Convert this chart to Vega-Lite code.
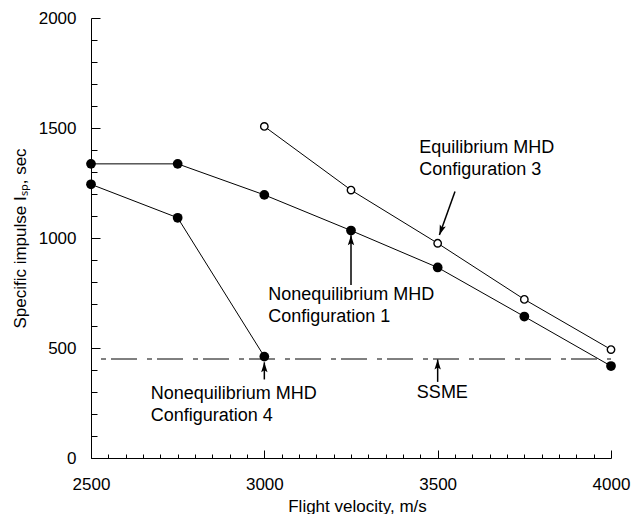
{
  "$schema": "https://vega.github.io/schema/vega-lite/v6.json",
  "width": 520,
  "height": 440,
  "autosize": {"type": "none"},
  "padding": {"left": 91, "top": 18, "right": 20, "bottom": 56},
  "background": "white",
  "config": {
    "view": {"stroke": null},
    "font": "Liberation Sans",
    "axis": {
      "labelFont": "Liberation Sans",
      "titleFont": "Liberation Sans",
      "labelColor": "black",
      "titleColor": "black",
      "tickColor": "black",
      "domainColor": "black",
      "gridColor": "black",
      "gridOpacity": 1,
      "gridWidth": 1,
      "labelFontSize": 17,
      "titleFontSize": 17,
      "titleFontWeight": "normal",
      "domainWidth": 1,
      "tickWidth": 1
    }
  },
  "datasets": {
    "perf": [
      {"series": "Nonequilibrium MHD Configuration 1", "v": 2500, "isp": 1337},
      {"series": "Nonequilibrium MHD Configuration 1", "v": 2750, "isp": 1337},
      {"series": "Nonequilibrium MHD Configuration 1", "v": 3000, "isp": 1196},
      {"series": "Nonequilibrium MHD Configuration 1", "v": 3250, "isp": 1034},
      {"series": "Nonequilibrium MHD Configuration 1", "v": 3500, "isp": 866},
      {"series": "Nonequilibrium MHD Configuration 1", "v": 3750, "isp": 643},
      {"series": "Nonequilibrium MHD Configuration 1", "v": 4000, "isp": 418},
      {"series": "Equilibrium MHD Configuration 3", "v": 3000, "isp": 1507},
      {"series": "Equilibrium MHD Configuration 3", "v": 3250, "isp": 1218},
      {"series": "Equilibrium MHD Configuration 3", "v": 3500, "isp": 976},
      {"series": "Equilibrium MHD Configuration 3", "v": 3750, "isp": 721},
      {"series": "Equilibrium MHD Configuration 3", "v": 4000, "isp": 493},
      {"series": "Nonequilibrium MHD Configuration 4", "v": 2500, "isp": 1244},
      {"series": "Nonequilibrium MHD Configuration 4", "v": 2750, "isp": 1092},
      {"series": "Nonequilibrium MHD Configuration 4", "v": 3000, "isp": 461}
    ],
    "ssme": [
      {"v": 2500, "v2": 4000, "isp": 450}
    ],
    "labels": [
      {"v": 3447, "isp": 1408, "text": "Equilibrium MHD"},
      {"v": 3447, "isp": 1309, "text": "Configuration 3"},
      {"v": 3011, "isp": 741, "text": "Nonequilibrium MHD"},
      {"v": 3011, "isp": 642, "text": "Configuration 1"},
      {"v": 2672, "isp": 289, "text": "Nonequilibrium MHD"},
      {"v": 2672, "isp": 190, "text": "Configuration 4"},
      {"v": 3440, "isp": 296, "text": "SSME"}
    ],
    "arrows": [
      {"name": "c3", "v": 3550, "isp": 1211, "v2": 3505, "isp2": 1014},
      {"name": "c1", "v": 3250, "isp": 786, "v2": 3250, "isp2": 1012},
      {"name": "c4", "v": 3000, "isp": 357, "v2": 3000, "isp2": 435},
      {"name": "ssme", "v": 3500, "isp": 346, "v2": 3500, "isp2": 448}
    ]
  },
  "resolve": {"axis": {"x": "independent", "y": "independent"}},
  "layer": [
    {
      "data": {"name": "perf"},
      "mark": {"type": "line", "color": "black", "strokeWidth": 1},
      "encoding": {
        "x": {
          "field": "v", "type": "quantitative",
          "scale": {"domain": [2500, 4000], "nice": false, "zero": false},
          "axis": {
            "orient": "bottom",
            "values": [2500, 3000, 3500, 4000],
            "format": "d",
            "ticks": false,
            "tickSize": 0,
            "grid": true,
            "gridDash": [8, 2000],
            "gridDashOffset": 1576,
            "labelPadding": 18,
            "labelFlush": false,
            "labelOverlap": false,
            "title": "Flight velocity, m/s",
            "titleX": 266,
            "titleY": 48,
            "titleBaseline": "middle",
            "titleAlign": "center"
          }
        },
        "y": {
          "field": "isp", "type": "quantitative",
          "scale": {"domain": [0, 2000], "nice": false},
          "axis": {
            "orient": "left",
            "values": [0, 500, 1000, 1500, 2000],
            "format": "d",
            "ticks": false,
            "tickSize": 0,
            "grid": true,
            "gridDash": [9, 2000],
            "labelPadding": 15,
            "labelFlush": false,
            "labelOverlap": false,
            "title": "Specific impulse Iₛₚ, sec",
            "titleAngle": -90,
            "titleX": -71,
            "titleY": 220,
            "titleAlign": "center",
            "titleBaseline": "middle"
          }
        },
        "detail": {"field": "series"}
      }
    },
    {
      "data": {"name": "ssme"},
      "mark": {"type": "rule", "color": "black", "strokeWidth": 1, "strokeDash": [5, 5, 26, 10], "strokeDashOffset": 36},
      "encoding": {
        "x": {"field": "v", "type": "quantitative", "axis": {
          "orient": "bottom",
          "values": [2550, 2600, 2650, 2700, 2750, 2800, 2850, 2900, 2950, 3050, 3100, 3150, 3200, 3250, 3300, 3350, 3400, 3450, 3550, 3600, 3650, 3700, 3750, 3800, 3850, 3900, 3950],
          "ticks": false, "grid": true, "gridDash": [4, 2000], "gridDashOffset": 1568,
          "labels": false, "domain": false, "title": null
        }},
        "x2": {"field": "v2"},
        "y": {"field": "isp", "type": "quantitative", "axis": {
          "orient": "left",
          "values": [100, 200, 300, 400, 600, 700, 800, 900, 1100, 1200, 1300, 1400, 1600, 1700, 1800, 1900],
          "ticks": false, "grid": true, "gridDash": [6, 2000],
          "labels": false, "domain": false, "title": null
        }}
      }
    },
    {
      "data": {"name": "arrows"},
      "mark": {"type": "rule", "color": "black", "strokeWidth": 1.5},
      "encoding": {
        "x": {"field": "v", "type": "quantitative", "axis": null},
        "y": {"field": "isp", "type": "quantitative", "axis": null},
        "x2": {"field": "v2"},
        "y2": {"field": "isp2"}
      }
    },
    {
      "data": {"name": "arrows"},
      "transform": [{"filter": "datum.name !== 'c3'"}],
      "mark": {"type": "point", "shape": "M0,0L0.32,1L0,0.8L-0.32,1Z", "size": 400, "filled": true, "color": "black", "strokeWidth": 0.5, "opacity": 1},
      "encoding": {
        "x": {"field": "v2", "type": "quantitative", "axis": null},
        "y": {"field": "isp2", "type": "quantitative", "axis": null}
      }
    },
    {
      "data": {"name": "arrows"},
      "transform": [{"filter": "datum.name === 'c3'"}],
      "mark": {"type": "point", "shape": "M0,0L0.32,1L0,0.8L-0.32,1Z", "size": 400, "filled": true, "color": "black", "strokeWidth": 0.5, "opacity": 1, "angle": 200},
      "encoding": {
        "x": {"field": "v2", "type": "quantitative", "axis": null},
        "y": {"field": "isp2", "type": "quantitative", "axis": null}
      }
    },
    {
      "data": {"name": "perf"},
      "transform": [{"filter": "datum.series !== 'Equilibrium MHD Configuration 3'"}],
      "mark": {"type": "point", "shape": "circle", "size": 95, "filled": true, "color": "black", "opacity": 1},
      "encoding": {
        "x": {"field": "v", "type": "quantitative", "axis": null},
        "y": {"field": "isp", "type": "quantitative", "axis": null}
      }
    },
    {
      "data": {"name": "perf"},
      "transform": [{"filter": "datum.series === 'Equilibrium MHD Configuration 3'"}],
      "mark": {"type": "point", "shape": "circle", "size": 55, "filled": false, "fill": "white", "stroke": "black", "strokeWidth": 1.4, "opacity": 1, "fillOpacity": 1},
      "encoding": {
        "x": {"field": "v", "type": "quantitative", "axis": null},
        "y": {"field": "isp", "type": "quantitative", "axis": null}
      }
    },
    {
      "data": {"name": "labels"},
      "mark": {"type": "text", "align": "left", "baseline": "middle", "font": "Liberation Sans", "fontSize": 18, "color": "black"},
      "encoding": {
        "x": {"field": "v", "type": "quantitative", "axis": null},
        "y": {"field": "isp", "type": "quantitative", "axis": null},
        "text": {"field": "text"}
      }
    }
  ]
}
